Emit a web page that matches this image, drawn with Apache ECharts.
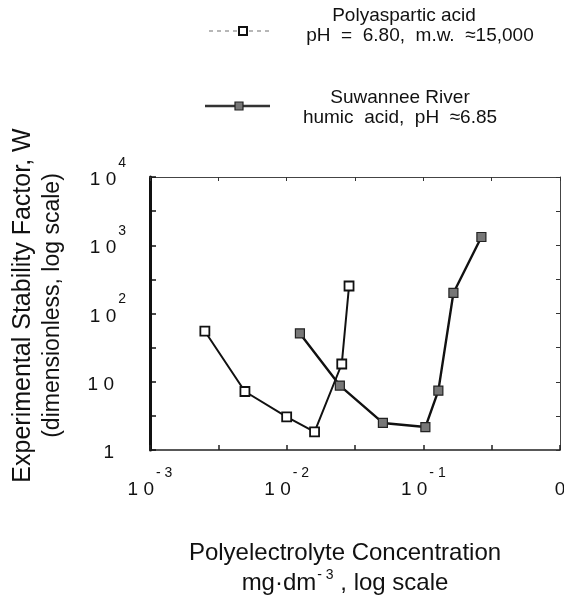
<!DOCTYPE html>
<html>
<head>
<meta charset="utf-8">
<title>Stability factor vs polyelectrolyte concentration</title>
<script src="https://cdn.jsdelivr.net/npm/echarts@6/dist/echarts.min.js"></script>
<style>
  html, body { margin: 0; padding: 0; background: #fff; }
  #chart { width: 564px; height: 595px; }
</style>
</head>
<body>
<div id="chart"></div>
<script>
// concentration (mg/dm3) and stability factor W
var polyConc  = [0.00252, 0.00495, 0.0100, 0.0160, 0.0253, 0.0286];
var polyW     = [55, 7.2, 3.05, 1.84, 18.2, 253];
var humicConc = [0.0125, 0.0245, 0.0506, 0.1035, 0.1288, 0.166, 0.266];
var humicW    = [51, 8.8, 2.49, 2.17, 7.4, 200, 1320];

var legendLines = [
  ['Polyaspartic acid', 'pH  =  6.80,  m.w.  \u224815,000'],
  ['Suwannee River', 'humic  acid,  pH  \u22486.85']
];
var xTickExp = [-3, -2, -1, 0];   // decade labels of x
var yTickExp = [0, 1, 2, 3, 4];   // decade labels of y

var FONT = '"Liberation Sans", Arial, Helvetica, sans-serif';

function pairs(xs, ys) {
  var out = [];
  for (var i = 0; i < xs.length; i++) out.push([xs[i], ys[i]]);
  return out;
}
function expOf(v) {
  return Math.round(Math.log(v) / Math.LN10);
}

var chart = echarts.init(document.getElementById('chart'));

// rich styles for "10" with superscript exponent
var supRich = {
  b:  { fontSize: 19, lineHeight: 20, padding: [17, 0, 17, 0], fontFamily: FONT, color: '#111' },
  s:  { fontSize: 14, lineHeight: 14, padding: [3, 0, 37, 2], fontFamily: FONT, color: '#111' },
  sp: { width: 12, fontSize: 13, lineHeight: 14, padding: [3, 0, 37, 0] }
};

var frameLine = { onZero: false, lineStyle: { color: '#444', width: 1 } };

var option = {
  backgroundColor: '#fff',
  animation: false,
  grid: { left: 150, right: 4, top: 177, bottom: 145, outerBoundsMode: 'none', containLabel: false },
  xAxis: [
    {
      type: 'log', logBase: 10, min: 0.001, max: 1,
      position: 'bottom',
      axisLine: { onZero: false, lineStyle: { color: '#222', width: 1.5 } },
      axisTick: { show: false },
      splitLine: { show: false },
      axisLabel: {
        margin: 30,
        rich: supRich,
        formatter: function (v) {
          var e = expOf(v);
          if (xTickExp.indexOf(e) < 0) return '';
          if (e === 0) return '{b|0}';
          return '{b|1 0}{s|- ' + (-e) + '}';
        }
      },
      name: '{t|Polyelectrolyte Concentration}\n{t|mg\u00b7dm}{u|- 3}{t| , log scale}',
      nameLocation: 'middle',
      nameGap: 118,
      nameTextStyle: {
        align: 'center', verticalAlign: 'middle', padding: [0, 20, 0, 0],
        rich: {
          t: { fontSize: 24, lineHeight: 30, fontFamily: FONT, color: '#111' },
          u: { fontSize: 14, lineHeight: 14, padding: [0, 0, 16, 1], fontFamily: FONT, color: '#111' }
        }
      }
    },
    { // top frame with half-decade ticks
      type: 'value', min: -3, max: 0, interval: 0.5, position: 'top',
      axisLine: frameLine,
      axisTick: { inside: true, length: 4, lineStyle: { color: '#333', width: 1 } },
      axisLabel: { show: false }, splitLine: { show: false }
    },
    { // half-decade ticks on the bottom
      type: 'value', min: -3, max: 0, interval: 0.5, position: 'bottom',
      axisLine: { show: false, onZero: false },
      axisTick: { inside: true, length: 5, lineStyle: { color: '#222', width: 1.5 } },
      axisLabel: { show: false }, splitLine: { show: false }
    }
  ],
  yAxis: [
    {
      type: 'log', logBase: 10, min: 1, max: 10000,
      position: 'left',
      axisLine: { onZero: false, lineStyle: { color: '#111', width: 3 } },
      axisTick: { show: false },
      splitLine: { show: false },
      axisLabel: {
        margin: 24,
        padding: [6, 0, 0, 0],
        rich: supRich,
        formatter: function (v) {
          var e = expOf(v);
          if (yTickExp.indexOf(e) < 0) return '';
          if (e === 0) return '{b|1}{sp| }';
          if (e === 1) return '{b|1 0}{sp| }';
          return '{b|1 0}{s|' + e + '}';
        }
      },
      name: '{a|Experimental Stability Factor, W}\n{c|(dimensionless, log scale)}',
      nameLocation: 'middle',
      nameGap: 112,
      nameTextStyle: {
        align: 'center', verticalAlign: 'middle', padding: [0, 0, 0, 16],
        rich: {
          a: { fontSize: 25, lineHeight: 30, fontFamily: FONT, color: '#111' },
          c: { fontSize: 23, lineHeight: 30, fontFamily: FONT, color: '#111' }
        }
      }
    },
    { // right frame with half-decade ticks
      type: 'value', min: 0, max: 4, interval: 0.5, position: 'right',
      axisLine: { show: true, onZero: false, lineStyle: { color: '#444', width: 1 } },
      axisTick: { show: true, inside: true, length: 4, lineStyle: { color: '#333', width: 1 } },
      axisLabel: { show: false }, splitLine: { show: false }
    },
    { // half-decade ticks on the left
      type: 'value', min: 0, max: 4, interval: 0.5, position: 'left',
      axisLine: { show: false, onZero: false },
      axisTick: { show: true, inside: true, length: 6, lineStyle: { color: '#111', width: 1.5 } },
      axisLabel: { show: false }, splitLine: { show: false }
    }
  ],
  graphic: [
    // legend: polyaspartic acid
    { type: 'line', shape: { x1: 209, y1: 31, x2: 270, y2: 31 },
      style: { stroke: '#888', lineWidth: 1.2, lineDash: [4, 4] } },
    { type: 'rect', shape: { x: 239, y: 27, width: 8, height: 8 },
      style: { fill: '#fff', stroke: '#111', lineWidth: 2 } },
    { type: 'text', x: 404, y: 16,
      style: { text: legendLines[0][0], font: '19px ' + FONT, fill: '#111', textAlign: 'center', textVerticalAlign: 'middle' } },
    { type: 'text', x: 420, y: 36,
      style: { text: legendLines[0][1], font: '19px ' + FONT, fill: '#111', textAlign: 'center', textVerticalAlign: 'middle' } },
    // legend: humic acid
    { type: 'line', shape: { x1: 205, y1: 106, x2: 270, y2: 106 },
      style: { stroke: '#333', lineWidth: 2.5 } },
    { type: 'rect', shape: { x: 235, y: 102, width: 8, height: 8 },
      style: { fill: '#777', stroke: '#222', lineWidth: 1.2 } },
    { type: 'text', x: 400, y: 98,
      style: { text: legendLines[1][0], font: '19px ' + FONT, fill: '#111', textAlign: 'center', textVerticalAlign: 'middle' } },
    { type: 'text', x: 400, y: 118,
      style: { text: legendLines[1][1], font: '19px ' + FONT, fill: '#111', textAlign: 'center', textVerticalAlign: 'middle' } }
  ],
  series: [
    {
      name: legendLines[0][0],
      type: 'line',
      xAxisIndex: 0, yAxisIndex: 0,
      data: pairs(polyConc, polyW),
      symbol: 'rect', symbolSize: 9,
      lineStyle: { color: '#111', width: 2 },
      itemStyle: { color: '#fff', borderColor: '#111', borderWidth: 1.8 },
      z: 3
    },
    {
      name: legendLines[1][0],
      type: 'line',
      xAxisIndex: 0, yAxisIndex: 0,
      data: pairs(humicConc, humicW),
      symbol: 'rect', symbolSize: 9,
      lineStyle: { color: '#111', width: 2.4 },
      itemStyle: { color: '#777', borderColor: '#222', borderWidth: 1.2 },
      z: 4
    }
  ]
};

chart.setOption(option);
</script>
</body>
</html>
